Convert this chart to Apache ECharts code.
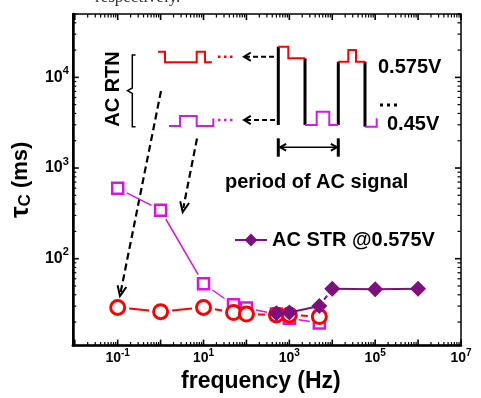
<!DOCTYPE html>
<html>
<head>
<meta charset="utf-8">
<script src="https://cdn.jsdelivr.net/npm/echarts@6/dist/echarts.min.js"></script>
<style>
  html, body { margin: 0; padding: 0; background: #fff; }
  #chart { width: 481px; height: 398px; }
</style>
</head>
<body>
<div id="chart"></div>
<script>
// Capture time constant vs. AC frequency (log-log)
const rtnHighFreq = [0.1, 1, 10, 50, 100, 500, 1000, 5000];          // Hz, AC RTN at 0.575 V
const rtnHighTau  = [29, 26, 29, 25.5, 24.5, 24, 24, 23];             // ms
const rtnLowFreq  = [0.1, 1, 10, 50, 100, 500, 1000, 5000];          // Hz, AC RTN at 0.45 V
const rtnLowTau   = [600, 343, 53, 31, 28.5, 24.5, 22, 19.5];         // ms
const strFreq     = [500, 1000, 5000, 10000, 100000, 1000000];       // Hz, AC stress at 0.575 V
const strTau      = [25, 25.5, 30, 46.5, 46, 46.5];                   // ms
const strDashedSegment = 2;          // segment starting at this index is drawn dashed
const xLabelExponents = [-1, 1, 3, 5, 7];
const yLabelExponents = [2, 3, 4];
const X_MIN = 0.009, X_MAX = 1e7, Y_MIN = 11, Y_MAX = 50000;

const FONT = '"Liberation Sans", Arial, sans-serif';
const RED = '#ff0000', MAGENTA = '#e010e0', WAVE_MAGENTA = '#c81ee8', PURPLE = '#7f0f7f';

const pairs = (xs, ys) => xs.map((x, i) => [x, ys[i]]);
const segments = (xs, ys) => xs.slice(1).map((x, i) => [xs[i], ys[i], x, ys[i + 1]]);

// tick positions at 1..9 x 10^k inside [lo, hi]
function logTicks(lo, hi) {
  const out = [];
  for (let e = Math.floor(Math.log10(lo)); e <= Math.ceil(Math.log10(hi)); e++) {
    for (let m = 1; m <= 9; m++) {
      const v = m * Math.pow(10, e);
      if (v >= lo * 0.9999 && v <= hi * 1.0001) out.push([v, m === 1 ? 1 : 0]);
    }
  }
  return out;
}
const tickData = [];
logTicks(X_MIN, X_MAX).forEach(([v, major]) => {
  tickData.push([v, Y_MIN, 0, major]);
  tickData.push([v, Y_MAX, 1, major]);
});
logTicks(Y_MIN, Y_MAX).forEach(([v, major]) => {
  tickData.push([X_MIN, v, 2, major]);
  tickData.push([X_MAX, v, 3, major]);
});

function renderTick(params, api) {
  const p = api.coord([api.value(0), api.value(1)]);
  const side = api.value(2), major = api.value(3);
  const len = major ? 6 : 3.5;
  const d = [[0, -1], [0, 1], [1, 0], [-1, 0]][side];
  return {
    type: 'line',
    shape: { x1: p[0], y1: p[1], x2: p[0] + d[0] * len, y2: p[1] + d[1] * len },
    style: { stroke: '#000', lineWidth: major ? 1.6 : 1.2 }
  };
}

// connecting lines that stop short of each symbol
function gapLine(color, width, halfSize, extra, square) {
  return function (params, api) {
    const a = api.coord([api.value(0), api.value(1)]);
    const b = api.coord([api.value(2), api.value(3)]);
    const dx = b[0] - a[0], dy = b[1] - a[1], L = Math.hypot(dx, dy);
    const ux = dx / L, uy = dy / L;
    const gap = (square ? halfSize / Math.max(Math.abs(ux), Math.abs(uy)) : halfSize) + extra;
    if (L <= 2 * gap + 1) return null;
    return {
      type: 'line',
      shape: { x1: a[0] + ux * gap, y1: a[1] + uy * gap, x2: b[0] - ux * gap, y2: b[1] - uy * gap },
      style: { stroke: color, lineWidth: width }
    };
  };
}

const strSolid = [];
strFreq.forEach((f, i) => {
  strSolid.push([f, strTau[i]]);
  if (i === strDashedSegment) strSolid.push(['-', '-']);
});
const strDashed = [[strFreq[strDashedSegment], strTau[strDashedSegment]],
                   [strFreq[strDashedSegment + 1], strTau[strDashedSegment + 1]]];

function expLabel(list) {
  return function (v) {
    const l = Math.log10(v), e = Math.round(l);
    if (Math.abs(l - e) > 1e-6 || list.indexOf(e) < 0) return '';
    return '{b|10}{s|' + e + '}';
  };
}

// inset schematic helpers
function arrowHead(tip, from, len, ang) {
  const dx = from[0] - tip[0], dy = from[1] - tip[1], L = Math.hypot(dx, dy);
  const ux = dx / L, uy = dy / L;
  const rot = (a) => [tip[0] + len * (ux * Math.cos(a) - uy * Math.sin(a)),
                      tip[1] + len * (ux * Math.sin(a) + uy * Math.cos(a))];
  return { type: 'polyline', shape: { points: [rot(ang), tip, rot(-ang)] },
           style: { stroke: '#000', lineWidth: 2, fill: null } };
}
function poly(points, color, width, dash) {
  return { type: 'polyline', shape: { points }, style: { stroke: color, lineWidth: width, fill: null, lineDash: dash || null } };
}
function txt(text, x, y, size, opts) {
  return Object.assign({
    type: 'text', x, y,
    style: { text, x: 0, y: 0, fill: '#000', font: 'bold ' + size + 'px ' + FONT,
             align: 'left', verticalAlign: 'middle', textAlign: 'left', textVerticalAlign: 'middle' }
  }, opts || {});
}

const graphics = [
  // heading fragment from the page above
  { type: 'text', x: 95, y: 6, style: { text: 'respectively.', x: 0, y: 0, fill: '#333',
    font: '17px "Liberation Serif", "Times New Roman", serif', verticalAlign: 'bottom', textVerticalAlign: 'bottom' } },
  // AC RTN bracket and label
  txt('AC RTN', 113.5, 89, 20, { rotation: Math.PI / 2, style: { text: 'AC RTN', x: 0, y: 0, fill: '#000',
      font: 'bold 20px ' + FONT, align: 'center', verticalAlign: 'middle', textAlign: 'center', textVerticalAlign: 'middle' } }),
  poly([[135.5, 55], [132.3, 55], [132.3, 88], [127.5, 90.7], [132.3, 93.4], [132.3, 126.7], [135.5, 126.7]], '#000', 1.5),
  // small traces
  poly([[158, 51.7], [165, 51.7], [165, 62.3], [196.7, 62.3], [196.7, 51.7], [205, 51.7], [205, 62.3], [212, 62.3]], RED, 2),
  poly([[218, 56.7], [234, 56.7]], RED, 2.5, [2.5, 3.5]),
  poly([[169, 126], [180, 126], [180, 116], [196.7, 116], [196.7, 126], [213.3, 126], [213.3, 118.5]], WAVE_MAGENTA, 2),
  poly([[218, 120], [234, 120]], WAVE_MAGENTA, 2.5, [2.5, 3.5]),
  // short arrows toward the traces
  poly([[274, 56.7], [246, 56.7]], '#000', 2, [5, 3]),
  arrowHead([244, 56.7], [274, 56.7], 8, 0.55),
  poly([[275, 120], [246, 120]], '#000', 2, [5, 3]),
  arrowHead([244, 120], [275, 120], 8, 0.55),
  // AC gate signal with captured levels
  poly([[278.3, 46.7], [278.3, 125]], '#000', 3),
  poly([[305, 58.3], [305, 125]], '#000', 3),
  poly([[338.3, 61.7], [338.3, 125]], '#000', 3),
  poly([[365, 61.7], [365, 126.7]], '#000', 3),
  poly([[278.3, 46.7], [288.3, 46.7], [288.3, 58.3], [305, 58.3]], RED, 2),
  poly([[338.3, 61.7], [348.3, 61.7], [348.3, 50], [356, 50], [356, 61.7], [365, 61.7]], RED, 2),
  poly([[305, 125], [316.7, 125], [316.7, 111.7], [329.3, 111.7], [329.3, 125], [338.3, 125]], WAVE_MAGENTA, 2),
  poly([[365, 126.7], [376.7, 126.7], [376.7, 118.3]], WAVE_MAGENTA, 2),
  txt('0.575V', 378, 67, 20),
  poly([[380, 105], [398, 105]], '#000', 3, [3, 4]),
  txt('0.45V', 387, 124, 20),
  // period marker
  poly([[278.3, 138.3], [278.3, 156.7]], '#000', 3),
  poly([[338.3, 138.3], [338.3, 156.7]], '#000', 3),
  poly([[280, 147.3], [337, 147.3]], '#000', 1.5),
  arrowHead([280, 147.3], [300, 147.3], 7, 0.5),
  arrowHead([337, 147.3], [317, 147.3], 7, 0.5),
  txt('period of AC signal', 225, 182, 20),
  // long arrows pointing to the data
  poly([[161, 91], [120.7, 292]], '#000', 2.2, [7, 4]),
  arrowHead([120, 296], [161, 91], 11, 0.42),
  poly([[197, 138.5], [183.3, 208]], '#000', 2.2, [7, 4]),
  arrowHead([182.7, 212], [197, 138.5], 11, 0.42)
];

const chart = echarts.init(document.getElementById('chart'), null, { renderer: 'canvas' });
chart.setOption({
  animation: false,
  backgroundColor: '#fff',
  grid: { left: 72, right: 20, top: 14, bottom: 46, show: true, borderColor: '#000', borderWidth: 1.5 },
  legend: {
    data: ['AC STR @0.575V'], left: 234, top: 230, itemWidth: 32, itemHeight: 16, padding: 0,
    textStyle: { fontFamily: FONT, fontWeight: 'bold', fontSize: 20, color: '#000' }
  },
  xAxis: {
    type: 'log', logBase: 10, min: X_MIN, max: X_MAX, splitNumber: 9,
    axisLine: { onZero: false, lineStyle: { color: '#000', width: 2.5 } },
    axisTick: { show: false }, splitLine: { show: false },
    axisLabel: {
      margin: 2.5, color: '#000', formatter: expLabel(xLabelExponents),
      rich: {
        b: { fontFamily: FONT, fontWeight: 'bold', fontSize: 14, padding: [3, 0, 3, 0], color: '#000' },
        s: { fontFamily: FONT, fontWeight: 'bold', fontSize: 10, verticalAlign: 'top', color: '#000' }
      }
    },
    name: 'frequency (Hz)', nameLocation: 'middle', nameGap: 19,
    nameTextStyle: { fontFamily: FONT, fontWeight: 'bold', fontSize: 23, color: '#000', padding: [0, 12, 0, 0] }
  },
  yAxis: {
    type: 'log', logBase: 10, min: Y_MIN, max: Y_MAX, splitNumber: 4,
    axisLine: { lineStyle: { color: '#000', width: 2.5 } },
    axisTick: { show: false }, splitLine: { show: false },
    axisLabel: {
      margin: 4, color: '#000', formatter: expLabel(yLabelExponents),
      rich: {
        b: { fontFamily: FONT, fontWeight: 'bold', fontSize: 16, padding: [4, 0, 4, 0], color: '#000' },
        s: { fontFamily: FONT, fontWeight: 'bold', fontSize: 11, verticalAlign: 'top', color: '#000' }
      }
    },
    name: '{t|τ}{c|C}{m| (ms)}', nameLocation: 'middle', nameGap: 29,
    nameTextStyle: {
      color: '#000',
      rich: {
        t: { fontFamily: FONT, fontWeight: 'bold', fontSize: 26, color: '#000' },
        c: { fontFamily: FONT, fontWeight: 'bold', fontSize: 17, color: '#000', verticalAlign: 'bottom', padding: [9, 0, 0, 0] },
        m: { fontFamily: FONT, fontWeight: 'bold', fontSize: 22, color: '#000' }
      }
    }
  },
  series: [
    { type: 'custom', z: 2, silent: true, clip: false, encode: { x: [0, 2], y: [1, 3] },
      renderItem: gapLine(MAGENTA, 1.5, 6.5, 3, true), data: segments(rtnLowFreq, rtnLowTau) },
    { type: 'scatter', z: 3, name: 'AC RTN @0.45V', symbol: 'rect', symbolSize: 11,
      itemStyle: { color: '#fff', borderColor: MAGENTA, borderWidth: 2.5, opacity: 1 },
      data: pairs(rtnLowFreq, rtnLowTau) },
    { type: 'custom', z: 4, silent: true, clip: false, encode: { x: [0, 2], y: [1, 3] },
      renderItem: gapLine(RED, 2, 8.5, 3, false), data: segments(rtnHighFreq, rtnHighTau) },
    { type: 'scatter', z: 5, name: 'AC RTN @0.575V', symbol: 'circle', symbolSize: 14,
      itemStyle: { color: '#fff', borderColor: RED, borderWidth: 3, opacity: 1 },
      data: pairs(rtnHighFreq, rtnHighTau) },
    { type: 'line', z: 6, symbol: 'none', silent: true,
      lineStyle: { color: PURPLE, width: 2, type: [5, 3] }, data: strDashed },
    { type: 'line', z: 7, name: 'AC STR @0.575V', symbol: 'diamond', symbolSize: 16,
      connectNulls: false,
      itemStyle: { color: PURPLE }, lineStyle: { color: PURPLE, width: 2 }, data: strSolid },
    { type: 'custom', z: 10, silent: true, clip: false, encode: { x: 0, y: 1 },
      renderItem: renderTick, data: tickData }
  ],
  graphic: { elements: graphics }
});
</script>
</body>
</html>
